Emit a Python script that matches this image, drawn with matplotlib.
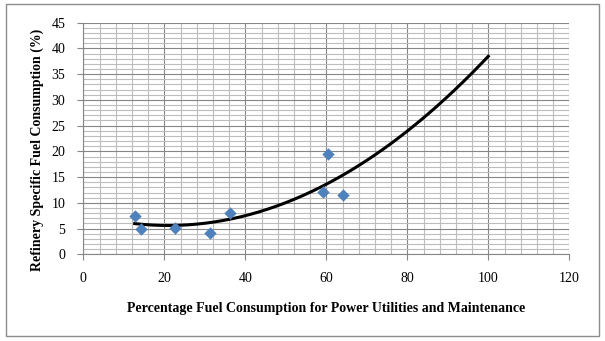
import matplotlib.pyplot as plt
import numpy as np
from matplotlib.patches import Rectangle
from matplotlib.ticker import MultipleLocator

# data
fuel_power = [12.7, 14.2, 22.6, 31.4, 36.2, 59.3, 60.5, 64.2]
specific_fuel = [7.5, 5.0, 5.2, 4.1, 8.0, 12.2, 19.4, 11.6]
trend_x_end = 100

x_ticks = [0, 20, 40, 60, 80, 100, 120]
y_ticks = [0, 5, 10, 15, 20, 25, 30, 35, 40, 45]

plt.rcParams['font.family'] = ['Liberation Serif', 'DejaVu Serif']

fig = plt.figure(figsize=(6.05, 3.41), dpi=100)
ax = fig.add_axes([0.1377, 0.2543, 0.941 - 0.1377, 0.9334 - 0.2543])

# outer chart border
fig.patches.append(Rectangle((5.5 / 605, 1 - 335.5 / 341), 593 / 605, 332 / 341,
                             transform=fig.transFigure, fill=False,
                             edgecolor='#8c8c8c', linewidth=1))

ax.set_xlim(0, 120)
ax.set_ylim(0, 45)
ax.set_xticks(x_ticks)
ax.set_yticks(y_ticks)
ax.xaxis.set_minor_locator(MultipleLocator(4))
ax.yaxis.set_minor_locator(MultipleLocator(1))
ax.grid(which='minor', color='#bdbdbd', linewidth=0.8)
ax.grid(which='major', color='#868686', linewidth=0.8)
ax.set_axisbelow(True)
ax.tick_params(which='minor', length=0)
ax.tick_params(which='major', length=4, width=0.8, color='#868686',
               labelsize=10)
ax.tick_params(axis='x', pad=9)
ax.tick_params(axis='y', pad=9)
for s in ['top', 'right']:
    ax.spines[s].set_visible(False)
for s in ['left', 'bottom']:
    ax.spines[s].set_color('#868686')
    ax.spines[s].set_linewidth(0.8)

# quadratic trend line (Excel style polynomial fit)
coef = np.polyfit(fuel_power, specific_fuel, 2)
tx = np.linspace(min(fuel_power), trend_x_end, 200)
ax.plot(tx, np.polyval(coef, tx), color='black', linewidth=2.2, zorder=3)

ax.scatter(fuel_power, specific_fuel, marker='D', s=40, color='#4f81bd',
           zorder=4, linewidths=0)

ax.set_xlabel('Percentage Fuel Consumption for Power Utilities and Maintenance',
              fontsize=10, fontweight='bold', labelpad=12)
ax.set_ylabel('Refinery Specific Fuel Consumption (%)',
              fontsize=10, fontweight='bold')
ax.yaxis.set_label_coords(-0.08, 0.45)

plt.savefig('out.png', dpi=100)
plt.close()
